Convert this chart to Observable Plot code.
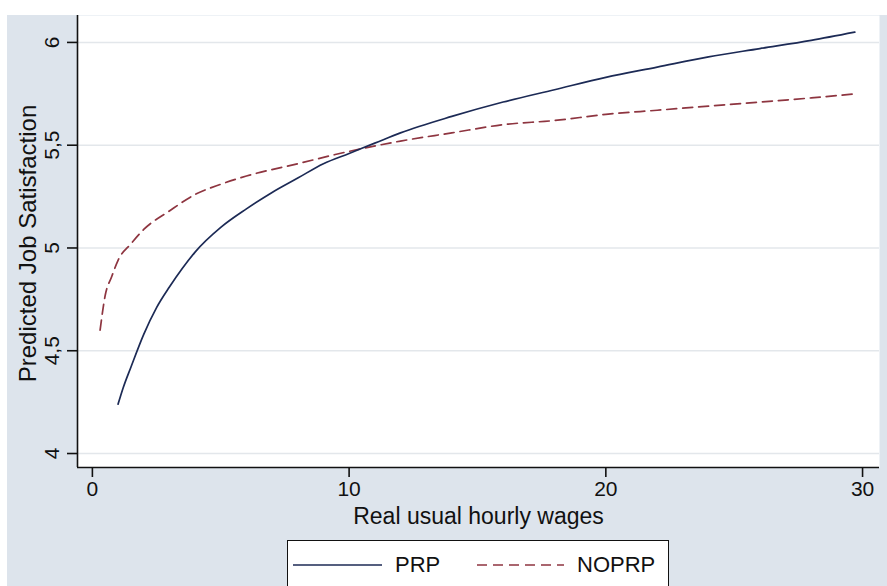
<!DOCTYPE html>
<html>
<head>
<meta charset="utf-8">
<script src="https://cdn.jsdelivr.net/npm/d3@7"></script>
<script src="https://cdn.jsdelivr.net/npm/@observablehq/plot@0.6"></script>
<style>
  html, body { margin: 0; padding: 0; background: #ffffff; }
  #wrap { position: relative; width: 887px; height: 586px; overflow: hidden; background: #ffffff; font-family: "Liberation Sans", Arial, sans-serif; }
  #bg { position: absolute; left: 7px; top: 15px; right: 0; bottom: 0; background: #dde4ec; }
  #chart { position: absolute; left: 0; top: 0; }
  #legend { position: absolute; left: 287px; top: 540px; width: 382px; height: 70px; background: #ffffff; border: 1.5px solid #111; box-sizing: border-box; }
  .sw { position: absolute; top: 16px; }
  .lt { position: absolute; top: 11px; font-size: 22px; color: #111; line-height: 26px; }
</style>
</head>
<body>
<div id="wrap">
  <div id="bg"></div>
  <div id="chart"></div>
  <div id="legend"></div>
</div>
<script>
// Series: PRP (solid)
const prpWage = [1.0, 1.2, 1.5, 2, 2.5, 3, 3.5, 4, 5, 6, 7, 8, 9, 10, 11, 12, 14, 16, 18, 20, 22, 24, 26, 28, 29.7];
const prpSat  = [4.24, 4.32, 4.42, 4.58, 4.71, 4.81, 4.90, 4.98, 5.10, 5.19, 5.27, 5.34, 5.41, 5.46, 5.51, 5.56, 5.64, 5.71, 5.77, 5.83, 5.88, 5.93, 5.97, 6.01, 6.05];
// Series: NOPRP (dashed)
const noprpWage = [0.3, 0.5, 0.75, 1, 1.5, 2, 3, 4, 5, 6, 8, 10, 12, 14, 16, 18, 20, 22, 24, 26, 28, 29.7];
const noprpSat  = [4.60, 4.77, 4.86, 4.94, 5.02, 5.09, 5.18, 5.26, 5.31, 5.35, 5.41, 5.47, 5.52, 5.56, 5.60, 5.62, 5.65, 5.67, 5.69, 5.71, 5.73, 5.75];

const seriesNames = ["PRP", "NOPRP"];
const seriesColors = ["#1c2a55", "#8e3540"];
const xTicks = [0, 10, 20, 30];
const yTicks = [4, 4.5, 5, 5.5, 6];
const xTitle = "Real usual hourly wages";
const yTitle = "Predicted Job Satisfaction";

const xDomain = [-0.58, 30.66];
const yDomain = [3.932, 6.131];

const prp = prpWage.map((w, i) => ({wage: w, sat: prpSat[i], series: seriesNames[0]}));
const noprp = noprpWage.map((w, i) => ({wage: w, sat: noprpSat[i], series: seriesNames[1]}));

const fmt = d => String(d).replace(".", ",");
const TICKFONT = 21;
const TITLEFONT = 23;

const chart = Plot.plot({
  width: 887,
  height: 586,
  marginLeft: 77,
  marginRight: 8,
  marginTop: 15,
  marginBottom: 119,
  style: { background: "transparent", fontFamily: "'Liberation Sans', Arial, sans-serif", color: "#111" },
  x: { domain: xDomain, axis: null },
  y: { domain: yDomain, axis: null },
  marks: [
    Plot.frame({ fill: "#ffffff", stroke: "none" }),
    Plot.ruleY(yTicks, { stroke: "#e3e7eb", strokeWidth: 1.5 }),
    // axis lines
    Plot.ruleX([xDomain[0]], { stroke: "#111", strokeWidth: 1.6 }),
    Plot.ruleY([yDomain[0]], { stroke: "#111", strokeWidth: 1.6 }),
    // ticks & labels
    Plot.axisX({ ticks: xTicks, tickSize: 10, tickPadding: 4, fontSize: TICKFONT, tickFormat: d => String(d), stroke: "#111", strokeWidth: 1.6, label: null }),
    Plot.axisY({ ticks: yTicks, tickSize: 10, tickFormat: () => "", stroke: "#111", strokeWidth: 1.6, label: null }),
    Plot.text(yTicks, { y: d => d, frameAnchor: "left", text: fmt, rotate: -90, dx: -25, fontSize: TICKFONT, fill: "#111", textAnchor: "middle", lineAnchor: "middle" }),
    // titles
    Plot.text([xTitle], { frameAnchor: "bottom", dy: 49, fontSize: TITLEFONT, fill: "#111", textAnchor: "middle", lineAnchor: "middle" }),
    Plot.text([yTitle], { frameAnchor: "left", dx: -49, dy: 2, rotate: -90, fontSize: TITLEFONT + 1, fill: "#111", textAnchor: "middle", lineAnchor: "middle" }),
    // series
    Plot.line(noprp, { x: "wage", y: "sat", stroke: seriesColors[1], strokeWidth: 1.7, strokeDasharray: "10,6", curve: "monotone-x" }),
    Plot.line(prp, { x: "wage", y: "sat", stroke: seriesColors[0], strokeWidth: 1.7, curve: "monotone-x" })
  ]
});
document.getElementById("chart").appendChild(chart);

// legend (HTML)
const legend = document.getElementById("legend");
const items = [
  { name: seriesNames[0], color: seriesColors[0], dash: null, lineX: 5, lineW: 89, textX: 107 },
  { name: seriesNames[1], color: seriesColors[1], dash: "10,6", lineX: 189, lineW: 87, textX: 289 }
];
for (const it of items) {
  const sw = document.createElementNS("http://www.w3.org/2000/svg", "svg");
  sw.setAttribute("class", "sw");
  sw.setAttribute("width", it.lineW);
  sw.setAttribute("height", 16);
  sw.style.left = it.lineX + "px";
  const ln = document.createElementNS("http://www.w3.org/2000/svg", "line");
  ln.setAttribute("x1", 0); ln.setAttribute("x2", it.lineW);
  ln.setAttribute("y1", 8); ln.setAttribute("y2", 8);
  ln.setAttribute("stroke", it.color);
  ln.setAttribute("stroke-width", 1.7);
  if (it.dash) ln.setAttribute("stroke-dasharray", it.dash);
  sw.appendChild(ln);
  legend.appendChild(sw);
  const t = document.createElement("div");
  t.className = "lt";
  t.style.left = it.textX + "px";
  t.textContent = it.name;
  legend.appendChild(t);
}
</script>
</body>
</html>
